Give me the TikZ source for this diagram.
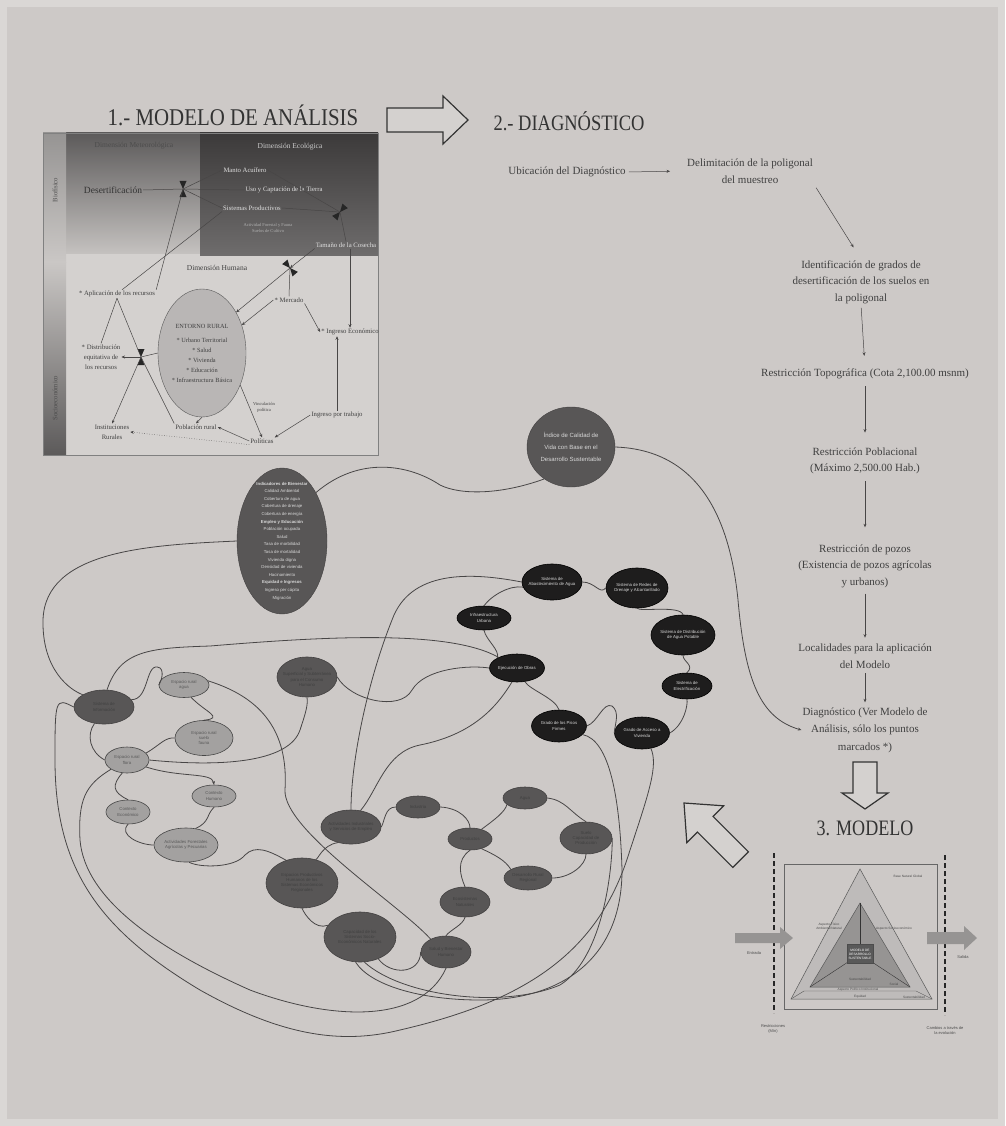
\documentclass[tikz,border=0pt]{standalone}
\usepackage{graphicx}
\usepackage{fontspec}
\setmainfont{Liberation Serif}
\setsansfont{Liberation Sans}
\usetikzlibrary{shapes.geometric,arrows.meta}
\definecolor{bgc}{RGB}{205,201,199}
\definecolor{bgedge}{RGB}{218,215,213}
\definecolor{inkc}{RGB}{72,70,70}
\definecolor{darkell}{RGB}{88,86,86}
\definecolor{blackell}{RGB}{30,29,29}
\definecolor{lightell}{RGB}{163,161,160}
\definecolor{entc}{RGB}{185,182,181}
\definecolor{barTop}{RGB}{150,148,147}
\definecolor{barMid}{RGB}{202,199,197}
\definecolor{barBot}{RGB}{92,90,90}
\definecolor{metTop}{RGB}{92,90,90}
\definecolor{metBot}{RGB}{196,193,191}
\definecolor{ecoTop}{RGB}{60,58,58}
\definecolor{ecoBot}{RGB}{110,108,108}
\definecolor{humC}{RGB}{212,209,207}
\definecolor{triOut}{RGB}{190,187,186}
\definecolor{triIn}{RGB}{150,148,147}
\definecolor{arrG}{RGB}{150,148,147}
\newcommand\netfnt{\sffamily\fontsize{4.3}{5.2}\selectfont}
\newcommand\bigfnt{\sffamily\fontsize{4.3}{7.6}\selectfont}
\newcommand\idxfnt{\sffamily\fontsize{6}{12}\selectfont}
\newcommand\flowfnt{\fontsize{11}{16.5}\selectfont}
\newcommand\sfnt{\fontsize{6.7}{10}\selectfont}
\newcommand\xsfnt{\fontsize{4.5}{6}\selectfont}
\newcommand\trifnt{\sffamily\fontsize{3.2}{4}\selectfont}
\begin{document}
\begin{tikzpicture}[x=1pt,y=-1pt,
  lnk/.style={draw=inkc, line width=0.5pt},
  con/.style={draw=inkc, line width=0.8pt},
  arr/.style={-{Stealth[length=3.5pt,width=3pt]}},
  dkE/.style 2 args={ellipse, fill=darkell, draw=darkell!75!black, line width=0.6pt,
     minimum width=#1, minimum height=#2, inner xsep=-12pt, inner ysep=-6pt,
     align=center, font=\netfnt, text=black!75},
  bkE/.style 2 args={dkE={#1}{#2}, fill=blackell, draw=black, text=white!85!black},
  ltE/.style 2 args={dkE={#1}{#2}, fill=lightell, draw=gray!55!black, text=black!65},
  flow/.style={font=\flowfnt, align=center, text=black!75, inner sep=1pt},
  sm/.style={font=\sfnt, align=center, text=black!75, inner sep=1pt},
  xs/.style={font=\xsfnt, align=center, text=black!75, inner sep=1pt},
  tri/.style={font=\trifnt, align=center, text=black!70, inner sep=0.5pt},
  hollow/.style={black!80, line width=1.2pt, fill=bgc!85!white},
  hglass/.pic={\fill[black!85] (-3.5,-8) -- (3.5,-8) -- (0,0) -- cycle;
               \fill[black!85] (-3.5,8) -- (3.5,8) -- (0,0) -- cycle;}
]
\useasboundingbox (0,0) rectangle (1005,1126);
\fill[bgedge] (0,0) rectangle (1005,1126);
\fill[bgc] (7,7) rectangle (998,1119);

% ================= 1. MODELO DE ANALISIS =================
\node[font=\fontsize{24}{24}\selectfont, text=black!80] (t1) at (233,115) {\scalebox{0.87}[1]{1.- MODELO DE ANÁLISIS}};
\fill[humC] (66,253) rectangle (378,455);
\shade[top color=metTop,bottom color=metBot] (66,133) rectangle (200,253);
\shade[top color=ecoTop,bottom color=ecoBot] (200,133) rectangle (378,255);
\shade[top color=barTop,bottom color=barMid] (43,133) rectangle (66,262);
\shade[top color=barMid,bottom color=barBot] (43,262) rectangle (66,455);
\draw[gray, line width=0.4pt] (43,133) rectangle (378,455);

\node[sm, rotate=90, text=black!70] (biof) at (55,190) {Biofísico};
\node[sm, rotate=90, text=black!70] (socio) at (55,398) {Socioeconómico};
\node[sm, font=\fontsize{7.5}{8}\selectfont, text=black!70] (dmet) at (134,146) {Dimensión Meteorológica};
\node[sm, font=\fontsize{7.5}{8}\selectfont, text=white!80!black] (deco) at (290,147) {Dimensión Ecológica};
\node[sm, font=\fontsize{9.5}{10}\selectfont, text=black!80] (desert) at (113,190) {Desertificación};
\node[sm, text=white!88!black] (manto) at (245,170) {Manto Acuífero};
\node[sm, text=white!88!black] (uso) at (284,190) {Uso y Captación de la Tierra};
\node[sm, text=white!88!black] (sisprod) at (252,208) {Sistemas Productivos};
\node[xs, text=white!70!black] (forest) at (268,228) {Actividad Forestal y Fauna\\Suelos de Cultivo};
\node[sm, text=white!88!black] (cosecha) at (346,245) {Tamaño de la Cosecha};
\node[sm, font=\fontsize{7.5}{8}\selectfont] (dhum) at (217,268) {Dimensión Humana};
\node[sm] (aplic) at (117,294) {* Aplicación de los recursos};
\node[sm] (merc) at (289,300) {* Mercado};
\node[sm] (ingeco) at (350,332) {* Ingreso Económico};
\node[sm] (distr) at (101,357) {* Distribución\\equitativa de\\los recursos};
\node[ellipse, fill=entc, draw=gray!70!black, line width=0.4pt, minimum width=88, minimum height=128,
      inner sep=-12pt, font=\fontsize{6.3}{10}\selectfont, align=center, text=black!75] (entorno) at (202,353)
      {ENTORNO RURAL\\[4pt]* Urbano Territorial\\* Salud\\* Vivienda\\* Educación\\* Infraestructura Básica};
\node[sm] (instit) at (112,432) {Instituciones\\Rurales};
\node[sm] (pobl) at (196,427) {Población rural};
\node[sm] (polit) at (262,441) {Políticas};
\node[sm] (ingtrab) at (337,415) {Ingreso por trabajo};
\node[xs] (vinc) at (264,407) {Vinculación\\política};

\coordinate (hg1) at (183,189);
\coordinate (hg2) at (340,212);
\coordinate (hg3) at (290,268);
\coordinate (hg4) at (141,357);
\pic at (hg1) {hglass};
\pic[rotate=-40] at (hg2) {hglass};
\pic[rotate=40] at (hg3) {hglass};
\pic at (hg4) {hglass};

\draw[lnk] (desert.east) -- (hg1);
\draw[lnk] (hg1) -- (manto.west);
\draw[lnk] (hg1) -- (uso.west);
\draw[lnk] (hg1) -- (sisprod.west);
\draw[lnk] (manto.east) -- (hg2);
\draw[lnk] (sisprod.east) -- (hg2);
\draw[lnk] (hg2) -- (cosecha.north);
\draw[lnk,arr] (cosecha.south west) -- (hg3);
\draw[lnk,arr] (hg3) -- (entorno.50);
\draw[lnk] (hg3) -- (merc.north);
\draw[lnk,arr] (merc.west) -- (entorno.35);
\draw[lnk,arr] (merc.south east) -- (ingeco.west);
\draw[lnk,arr] (cosecha.south -| ingeco.north) -- (ingeco.north);
\draw[lnk] (hg1) -- (aplic.north east);
\draw[lnk] (sisprod.south west) -- (aplic.40);
\draw[lnk] (aplic.south) -- (distr.north);
\draw[lnk] (aplic.south) -- (hg4) -- (pobl.north west);
\draw[lnk,arr] (hg4) -- (distr.east);
\draw[lnk] (hg4) -- (entorno.west);
\draw[lnk,arr] (hg4) -- (instit.north);
\draw[lnk,arr] (entorno.south) -- (pobl.north);
\draw[lnk,arr] (entorno.-40) -- (polit.north);
\draw[lnk,arr] (polit.west) -- (pobl.east);
\draw[lnk,dotted,arr] (polit.south west) -- (instit.east);
\draw[lnk,arr] (ingtrab.west) -- (polit.north east);
\draw[lnk,arr] (ingtrab.north) -- (ingeco.south -| ingtrab.north);

% big hollow arrow
\draw[hollow] (387,108) -- (443,108) -- (443,96) -- (468,120) -- (443,144) -- (443,132) -- (387,132) -- cycle;

% ================= 2. DIAGNOSTICO =================
\node[font=\fontsize{22}{22}\selectfont, text=black!80, anchor=west] (t2) at (490,121) {\scalebox{0.84}[1]{2.- DIAGNÓSTICO}};
\node[flow] (ubic) at (567,172) {Ubicación del Diagnóstico};
\node[flow] (delim) at (750,171) {Delimitación de la poligonal\\del muestreo};
\node[flow] (ident) at (861,282) {Identificación de grados de\\desertificación de los suelos en\\la poligonal};
\node[flow] (topo) at (865,374) {Restricción Topográfica (Cota 2,100.00 msnm)};
\node[flow] (pobla) at (865,461) {Restricción Poblacional\\(Máximo 2,500.00 Hab.)};
\node[flow] (pozos) at (865,566) {Restricción de pozos\\(Existencia de pozos agrícolas\\y urbanos)};
\node[flow] (local) at (865,656) {Localidades para la aplicación\\del Modelo};
\node[flow, font=\fontsize{11}{17.5}\selectfont] (diag) at (865,730) {Diagnóstico (Ver Modelo de\\Análisis, sólo los puntos\\marcados *)};
\draw[lnk,arr,shorten >=16pt,shorten <=2pt] (ubic.east) -- (delim.west);
\draw[lnk,arr,shorten >=14pt,shorten <=4pt] (delim.south east) -- (ident.north);
\draw[lnk,arr,shorten >=12pt,shorten <=3pt] (ident.south) -- (topo.north);
\draw[lnk,arr,shorten >=14pt,shorten <=6pt] (topo.south) -- (pobla.north);
\draw[lnk,arr,shorten >=16pt,shorten <=6pt] (pobla.south) -- (pozos.north);
\draw[lnk,arr,shorten >=5pt,shorten <=5pt] (pozos.south) -- (local.north);
\draw[lnk,arr,shorten >=4pt,shorten <=4pt] (local.south) -- (diag.north);
\draw[hollow] (853,762) -- (877,762) -- (877,793) -- (888,793) -- (865,809) -- (842,793) -- (853,793) -- cycle;

% ================= 3. MODELO =================
\node[font=\fontsize{22}{22}\selectfont, text=black!80] (t3) at (865,828) {\scalebox{0.82}[1]{3. MODELO}};
\draw[black!85, line width=1.5pt, dash pattern=on 5pt off 3pt] (774,853) -- (774,1013);
\draw[black!85, line width=1.5pt, dash pattern=on 5pt off 3pt] (945,855) -- (945,1015);
\draw[gray!80!black, line width=0.5pt] (784,864) rectangle (937,1009);
\draw[gray!70!black, fill=triOut, line width=0.5pt] (860,869) -- (791,999) -- (932,999) -- cycle;
\draw[gray!70!black, fill=triIn, line width=0.5pt] (860,903) -- (810,987) -- (910,987) -- cycle;
\draw[gray!40!black, line width=0.4pt] (860,903) -- (860,945);
\draw[gray!40!black, line width=0.4pt] (848,962) -- (810,987);
\draw[gray!40!black, line width=0.4pt] (872,962) -- (910,987);
\draw[gray!70!black, line width=0.4pt] (791,999) -- (804,991) -- (916,991) -- (932,999);
\node[draw=black!70, fill=gray!70!black, minimum width=26, minimum height=19, inner sep=0pt, text=white, font=\trifnt, align=center] (mcore) at (860,954) {MODELO DE\\DESARROLLO\\SUSTENTABLE};
\node[tri] (tl1) at (908,876) {Base Natural Global};
\node[tri] (tl2) at (829,926) {Aspecto Físico\\Ambiental Natural};
\node[tri] (tl3) at (894,929) {Aspecto Socioeconómico};
\node[tri] (tl4) at (860,979) {Sustentabilidad};
\node[tri] (tl5) at (894,984) {Social};
\node[tri] (tl6) at (858,990) {Aspecto Político Institucional};
\node[tri] (tl7) at (860,997) {Equidad};
\node[tri] (tl8) at (914,997) {Sustentabilidad};
\fill[arrG] (735,933) -- (780,933) -- (780,927) -- (793,938) -- (780,949) -- (780,943) -- (735,943) -- cycle;
\fill[arrG] (927,932) -- (964,932) -- (964,926) -- (977,938) -- (964,950) -- (964,944) -- (927,944) -- cycle;
\node[tri, font=\sffamily\fontsize{4}{5}\selectfont] (tin) at (754,953) {Entrada};
\node[tri, font=\sffamily\fontsize{4}{5}\selectfont] (tout) at (963,957) {Salida};
\node[tri, font=\sffamily\fontsize{4}{5}\selectfont] (tmin) at (773,1029) {Restricciones\\(Mín)};
\node[tri, font=\sffamily\fontsize{4}{5}\selectfont] (tmax) at (945,1031) {Cambios a través de\\la evolución};

% hollow arrow up-left
\draw[hollow] (684,803) -- (723.6,805.8) -- (713,816.4) -- (748.4,851.8) -- (732.8,867.4) -- (697.4,832) -- (686.8,842.6) -- cycle;

% ================= NETWORK =================
\node[ellipse, fill=darkell, draw=darkell!75!black, minimum width=88, minimum height=80, inner xsep=-10pt, inner ysep=-6pt,
      font=\idxfnt, align=center, text=white!85!black] (idx) at (571,447) {Índice de Calidad de\\Vida con Base en el\\Desarrollo Sustentable};
\node[ellipse, fill=darkell, draw=darkell!75!black, minimum width=90, minimum height=146, inner xsep=-15pt, inner ysep=-40pt,
      font=\bigfnt, align=center, text=white!85!black] (big) at (282,541)
  {\textbf{Indicadores de Bienestar}\\Calidad Ambiental\\Cobertura de agua\\Cobertura de drenaje\\Cobertura de energía\\
   \textbf{Empleo y Educación}\\Población ocupada\\Salud\\Tasa de morbilidad\\Tasa de mortalidad\\Vivienda digna\\
   Densidad de vivienda\\Hacinamiento\\\textbf{Equidad e Ingresos}\\Ingreso per cápita\\Migración};

% black ring
\node[bkE={60}{36}] (ba) at (552,582) {Sistema de\\Abastecimiento de Agua};
\node[bkE={62}{40}] (bb) at (637,588) {Sistema de Redes de\\Drenaje y Alcantarillado};
\node[bkE={64}{40}] (bc) at (683,635) {Sistema de Distribución\\de Agua Potable};
\node[bkE={50}{26}] (bd) at (687,686) {Sistema de\\Electrificación};
\node[bkE={55}{32}] (be) at (642,733) {Grado de Acceso a\\Vivienda};
\node[bkE={55}{32}] (bf) at (559,726) {Grado de los Pisos\\Firmes};
\node[bkE={55}{28}] (bg) at (517,668) {Ejecución de Obras};
\node[bkE={54}{24}] (bi) at (484,618) {Infraestructura\\Urbana};

% left cluster
\node[dkE={60}{34}] (dk1) at (104,707) {Sistema de\\Información};
\node[ltE={50}{25}] (la) at (184,685) {Espacio rural\\agua};
\node[ltE={58}{35}] (lb) at (204,738) {Espacio rural\\suelo\\fauna};
\node[ltE={44}{26}] (lc) at (127,760) {Espacio rural\\flora};
\node[ltE={44}{22}] (ld) at (214,796) {Contexto\\Humano};
\node[ltE={44}{24}] (le) at (128,812) {Contexto\\Económico};
\node[ltE={64}{34}] (lf) at (186,845) {Actividades Forestales\\Agrícolas y Pecuarias};
\node[dkE={60}{40}] (agua) at (307,677) {Agua\\Superficial y Subterránea\\para el Consumo\\Humano};

% lower cluster
\node[dkE={60}{34}] (act) at (351,827) {Actividades Industriales\\y Servicios de Empleo};
\node[dkE={44}{22}] (ind) at (418,807) {Industria};
\node[dkE={44}{22}] (prod) at (470,839) {Productos};
\node[dkE={44}{22}] (aguaB) at (525,798) {Agua};
\node[dkE={52}{32}] (suelo) at (586,838) {Suelo\\Capacidad de\\Producción};
\node[dkE={48}{24}] (desa) at (528,878) {Desarrollo Rural\\Regional};
\node[dkE={50}{30}] (eco) at (465,902) {Ecosistemas\\Naturales};
\node[dkE={50}{32}] (salud) at (446,952) {Salud y Bienestar\\Humano};
\node[dkE={72}{50}] (esp) at (302,883) {Espacios Productivos\\Humanos de los\\Sistemas Económicos\\Regionales};
\node[dkE={72}{50}] (cap) at (360,937) {Capacidad de los\\Sistemas Socio-\\Económicos Naturales};

% connectors
\draw[con] (idx.230) .. controls (500,495) and (460,495) .. (440,485) .. controls (410,465) and (360,455) .. (big.55);
\draw[con,arr] (idx.east) .. controls (700,450) and (730,520) .. (738,600) .. controls (745,680) and (760,718) .. (diag.west);
\draw[con] (big.west) .. controls (150,545) and (45,550) .. (43,620) .. controls (42,670) and (70,690) .. (dk1.150);
\draw[con] (dk1.80) .. controls (120,650) and (150,648) .. (210,646) .. controls (330,636) and (450,630) .. (bg.150);
\draw[con] (dk1.15) .. controls (150,700) and (145,660) .. (160,668) .. controls (165,672) and (160,684) .. (la.west);
\draw[con] (la.-60) .. controls (205,712) and (225,718) .. (lb.north);
\draw[con] (la.10) .. controls (270,700) and (288,740) .. (285,790) .. controls (283,830) and (400,905) .. (salud.140);
\draw[con] (dk1.240) .. controls (86,735) and (90,752) .. (lc.west);
\draw[con] (lc.20) .. controls (160,745) and (165,737) .. (lb.west);
\draw[con] (lc.east) .. controls (230,768) and (290,760) .. (300,730) .. controls (306,712) and (308,705) .. (agua.south);
\draw[con,arr] (lc.-20) .. controls (180,778) and (212,772) .. (ld.north);
\draw[con] (lc.250) .. controls (112,785) and (112,792) .. (le.north);
\draw[con] (le.south) .. controls (118,835) and (140,845) .. (lf.west);
\draw[con] (ld.south) .. controls (206,815) and (210,822) .. (lf.60);
\draw[con] (lf.-80) .. controls (200,868) and (235,868) .. (245,855) .. controls (255,845) and (268,850) .. (esp.125);
\draw[con] (agua.east) .. controls (350,700) and (400,712) .. (412,690) .. controls (425,668) and (470,665) .. (bg.west);
\draw[con] (ba.west) .. controls (470,572) and (410,570) .. (392,620) .. controls (368,680) and (351,760) .. (act.north);
\draw[con] (ba.190) .. controls (510,585) and (492,595) .. (bi.north);
\draw[con] (bg.250) .. controls (495,710) and (470,735) .. (420,745) .. controls (385,752) and (378,790) .. (act.60);
\draw[con] (bg.300) .. controls (530,690) and (555,698) .. (bf.north);
\draw[con] (bf.east) .. controls (598,722) and (603,702) .. (612,706) .. controls (620,712) and (615,724) .. (be.west);
\draw[con] (bd.south) .. controls (688,705) and (684,725) .. (be.east);
\draw[con] (bc.south) .. controls (683,662) and (695,665) .. (bd.north);
\draw[con] (bi.south) .. controls (486,640) and (500,650) .. (bg.north west);
\draw[con] (ba.east) .. controls (595,582) and (600,595) .. (bb.west);
\draw[con] (bb.south) .. controls (640,612) and (680,605) .. (bc.north);
\draw[con] (dk1.west) .. controls (55,697) and (55,700) .. (55,760) .. controls (55,870) and (100,930) .. (200,990) .. controls (280,1035) and (340,1045) .. (400,1030) .. controls (530,1000) and (600,950) .. (630,850) .. controls (650,790) and (658,765) .. (be.-60);
\draw[con] (lc.210) .. controls (85,785) and (78,800) .. (80,840) .. controls (85,900) and (160,950) .. (250,990) .. controls (330,1020) and (420,1025) .. (salud.south);
\draw[con] (bf.-20) .. controls (610,740) and (620,800) .. (622,870) .. controls (622,960) and (560,1000) .. (480,1000) .. controls (420,1000) and (370,985) .. (cap.-100);
\draw[con] (suelo.east) .. controls (612,880) and (600,960) .. (560,985) .. controls (500,1010) and (400,995) .. (cap.-80);
\draw[con] (salud.west) .. controls (420,975) and (390,975) .. (cap.-50);
\draw[con] (cap.160) .. controls (315,930) and (305,915) .. (esp.south);
\draw[con] (esp.60) .. controls (318,860) and (322,845) .. (act.230);
\draw[con] (act.east) .. controls (385,820) and (385,807) .. (ind.west);
\draw[con] (ind.east) .. controls (460,808) and (470,820) .. (prod.north);
\draw[con] (prod.40) .. controls (494,820) and (505,812) .. (aguaB.200);
\draw[con] (aguaB.east) .. controls (565,800) and (570,812) .. (suelo.north);
\draw[con] (suelo.south) .. controls (586,865) and (570,878) .. (desa.east);
\draw[con] (prod.-40) .. controls (495,855) and (505,860) .. (desa.north west);
\draw[con] (prod.south) .. controls (456,860) and (460,875) .. (eco.north);
\draw[con] (eco.south) .. controls (463,925) and (450,930) .. (salud.north);
\end{tikzpicture}
\end{document}
